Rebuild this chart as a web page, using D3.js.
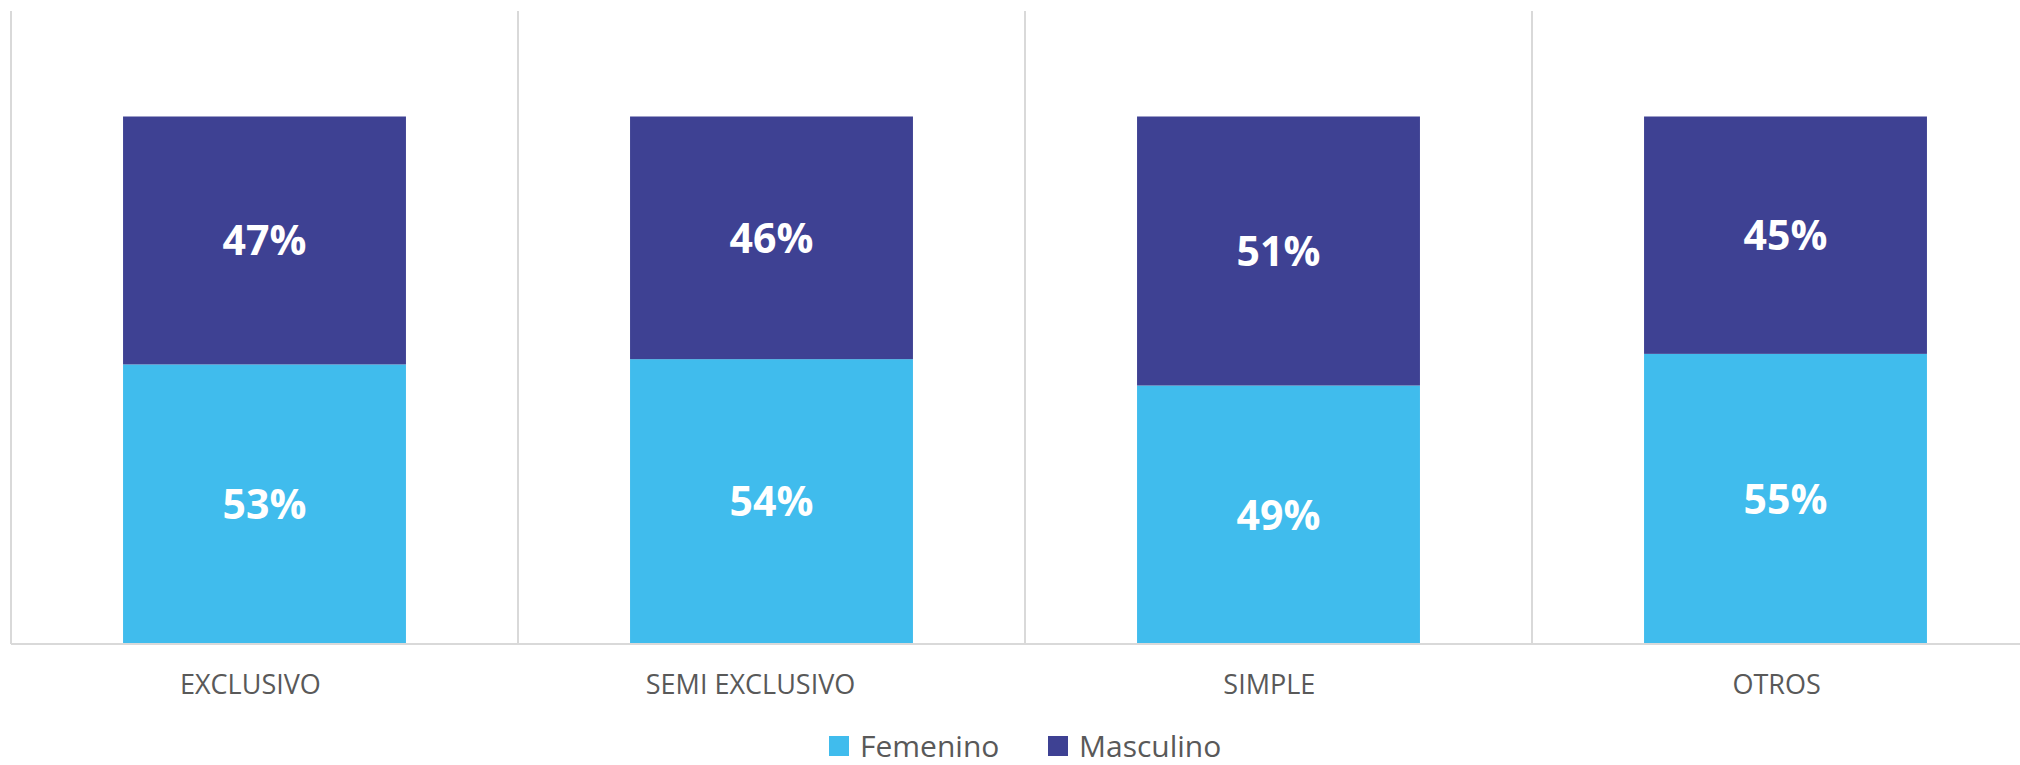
<!DOCTYPE html>
<html>
<head>
<meta charset="utf-8">
<script src="https://cdn.jsdelivr.net/npm/d3@7"></script>
<style>
	html, body { margin: 0; padding: 0; background: #fff; }
	svg { display: block; font-family: "Open Sans", sans-serif; }
</style>
</head>
<body>
<svg id="chart" width="2020" height="765"></svg>
<script>
	'use strict';
	var categories = [ 'EXCLUSIVO', 'SEMI EXCLUSIVO', 'SIMPLE', 'OTROS' ];
	var femenino = [ 0.53, 0.54, 0.49, 0.55 ];
	var masculino = [ 0.47, 0.46, 0.51, 0.45 ];
	var seriesNames = [ 'Femenino', 'Masculino' ];
	var colors = [ '#40BCED', '#3E4193' ];

	(function() {
		var svg = d3.select('#chart');
		var plotLeft = 11, plotRight = 2039, plotTop = 11, plotBottom = 644;

		var rows = categories.map(function(c, i) {
			return { cat : c, Femenino : femenino[i], Masculino : masculino[i] };
		});
		var stacked = d3.stack().keys(seriesNames)(rows);

		var xCell = d3.scaleBand().domain(categories).range([ plotLeft, plotRight ]);
		var x = d3.scaleBand().domain(categories).range([ plotLeft, plotRight ])
			.paddingInner(0.442).paddingOuter(0.221);
		var y = d3.scaleLinear().domain([ 0, 1.2 ]).range([ plotBottom, plotTop ]);

		// vertical category separators
		svg.append('g').selectAll('line')
			.data(categories)
			.enter().append('line')
			.attr('x1', function(d) { return xCell(d); })
			.attr('x2', function(d) { return xCell(d); })
			.attr('y1', plotTop)
			.attr('y2', plotBottom)
			.attr('stroke', '#D9D9D9')
			.attr('stroke-width', 2);

		var layer = svg.append('g').selectAll('g')
			.data(stacked)
			.enter().append('g')
			.attr('fill', function(d, i) { return colors[i]; });

		layer.selectAll('rect')
			.data(function(d) { return d; })
			.enter().append('rect')
			.attr('x', function(d) { return x(d.data.cat); })
			.attr('width', x.bandwidth())
			.attr('y', function(d) { return y(d[1]); })
			.attr('height', function(d) { return y(d[0]) - y(d[1]); });

		layer.selectAll('text')
			.data(function(d) { return d; })
			.enter().append('text')
			.attr('x', function(d) { return x(d.data.cat) + x.bandwidth() / 2; })
			.attr('y', function(d) { return (y(d[0]) + y(d[1])) / 2; })
			.attr('dy', '0.36em')
			.attr('text-anchor', 'middle')
			.attr('fill', '#fff')
			.attr('font-weight', 'bold')
			.attr('font-size', 41)
			.text(function(d) { return Math.round((d[1] - d[0]) * 100) + '%'; });

		// x axis
		var xAxis = svg.append('g')
			.attr('transform', 'translate(0,' + plotBottom + ')')
			.call(d3.axisBottom(x).tickSize(0).tickPadding(31));
		xAxis.select('.domain')
			.attr('d', 'M' + plotLeft + ',0H' + plotRight)
			.attr('stroke', '#D9D9D9')
			.attr('stroke-width', 2);
		xAxis.selectAll('text')
			.attr('fill', '#595959')
			.attr('font-size', 27)
			.attr('font-family', '"Open Sans", sans-serif')
			.attr('dx', function() {
				// the original labels sit a little left of the bar centres
				return -0.1 * this.getComputedTextLength();
			});

		// legend
		var legend = svg.append('g').attr('transform', 'translate(0,746)');
		var legendX = [ 829, 1048 ];
		var item = legend.selectAll('g')
			.data(seriesNames)
			.enter().append('g')
			.attr('transform', function(d, i) { return 'translate(' + legendX[i] + ',0)'; });
		item.append('rect')
			.attr('x', 0)
			.attr('y', -10)
			.attr('width', 20)
			.attr('height', 20)
			.attr('fill', function(d, i) { return colors[i]; });
		item.append('text')
			.attr('x', 31)
			.attr('dy', '0.36em')
			.attr('fill', '#595959')
			.attr('font-size', 30)
			.text(function(d) { return d; });
	})();
</script>
</body>
</html>
